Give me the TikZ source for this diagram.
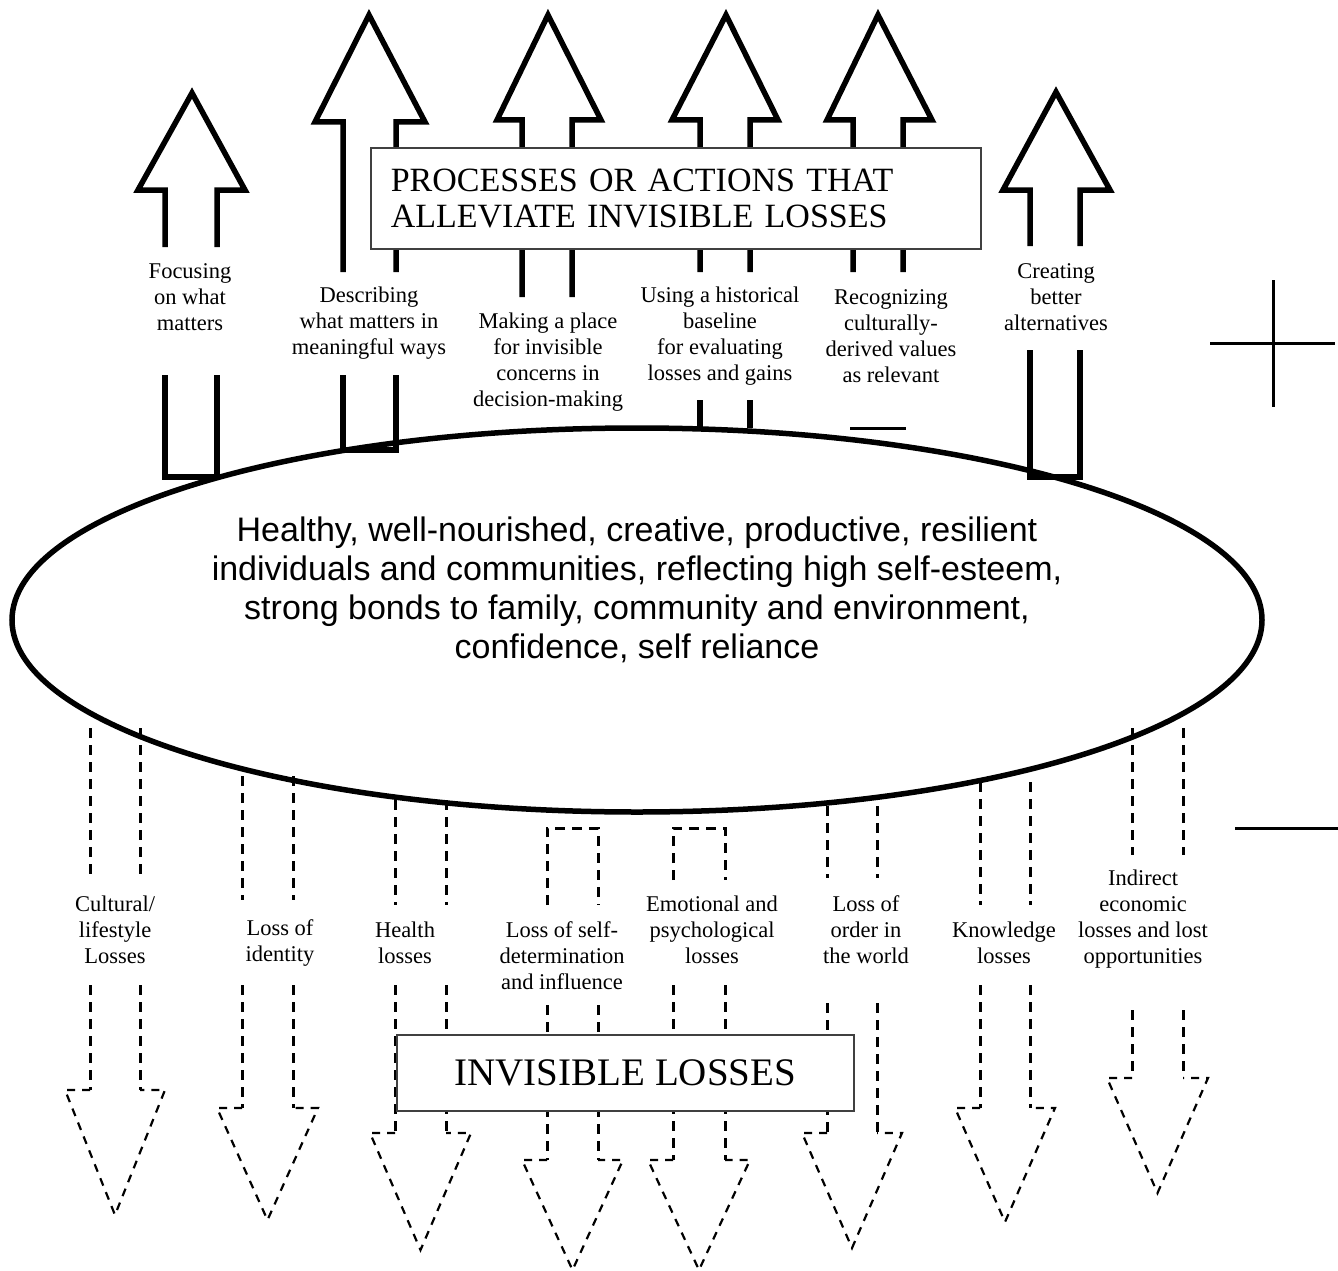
\documentclass[tikz,border=0pt]{standalone}
\usepackage{fontspec}
\setmainfont{Liberation Serif}
\newfontfamily\sansf{Liberation Sans}
\usetikzlibrary{shapes.geometric}
\begin{document}
\begin{tikzpicture}[x=1pt,y=-1pt,
  solidarrow/.style={line width=5.5pt, line join=miter},
  dshaft/.style={line width=3pt, dash pattern=on 10pt off 7pt},
  dhead/.style={line width=2.2pt, dash pattern=on 8pt off 7pt},
  lab/.style={align=center, font=\fontsize{22.5}{26}\selectfont, inner sep=0pt},
  boxstyle/.style={draw=black!75, line width=1.6pt, fill=white, inner sep=0pt}]
\useasboundingbox (0,0) rectangle (1338,1271);
\fill[white] (0,0) rectangle (1338,1271);

% central ellipse
\node[draw, ellipse, line width=5.5pt, minimum width=1250pt, minimum height=384pt,
      inner sep=0pt] (core) at (637,620) {};
\node[align=center, inner sep=0pt, font=\sansf\fontsize{34}{39}\selectfont] (coretext) at (637,590)
  {Healthy, well-nourished, creative, productive, resilient\\
   individuals and communities, reflecting high self-esteem,\\
   strong bonds to family, community and environment,\\
   confidence, self reliance};

% up arrows
\draw[solidarrow] (165,247) -- (165,190) -- (138,190) -- (192,93) -- (245,190) -- (217,190) -- (217,247);
\draw[solidarrow] (165,375) -- (165,477) -- (217,477) -- (217,375);
\draw[solidarrow] (343,272) -- (343,122) -- (315,122) -- (369,15) -- (425,122) -- (396,122) -- (396,272);
\draw[solidarrow] (343,375) -- (343,450) -- (396,450) -- (396,375);
\draw[solidarrow] (522,297) -- (522,120) -- (497,120) -- (548,15) -- (601,120) -- (572,120) -- (572,297);
\draw[solidarrow] (700,272) -- (700,120) -- (672,120) -- (726,15) -- (778,120) -- (750,120) -- (750,272);
\draw[solidarrow] (700,400) -- (700,428) (750,400) -- (750,428);
\draw[solidarrow] (853,272) -- (853,120) -- (827,120) -- (878,15) -- (932,120) -- (903,120) -- (903,272);
\draw[line width=3pt] (850,428) -- (906,428);
\draw[solidarrow] (1030,246) -- (1030,190) -- (1003,190) -- (1056,92) -- (1110,190) -- (1080,190) -- (1080,246);
\draw[solidarrow] (1030,350) -- (1030,477) -- (1080,477) -- (1080,350);

% up labels
\node[lab] (u1) at (190,297) {Focusing\\on what\\matters};
\node[lab] (u2) at (369,323) {Describing\\what matters in\\meaningful ways};
\node[lab] (u3) at (548,362) {Making a place\\for invisible\\concerns in\\decision-making};
\node[lab] (u4) at (720,336) {Using a historical\\baseline\\for evaluating\\losses and gains};
\node[lab] (u5) at (891,336) {Recognizing\\culturally-\\derived values\\as relevant};
\node[lab] (u6) at (1056,297) {Creating\\better\\alternatives};

% down arrows (dashed)
\foreach \L/\R/\T/\E/\S/\B/\tip in {90/140/728/875/985/1090/1215,
    242/293/776/900/985/1108/1220,
    395/446/800/905/985/1133/1250,
    980/1030/782/905/985/1108/1222,
    1132/1183/728/855/1010/1078/1193,
    827/877/806/878/1003/1133/1248}{
  \draw[dshaft] (\L,\T) -- (\L,\E) (\R,\T) -- (\R,\E) (\L,\S) -- (\L,\B) (\R,\S) -- (\R,\B);
  \draw[dhead] (\L,\B) -- ({\L-25},\B) -- ({(\L+\R)/2},\tip) -- ({\R+25},\B) -- (\R,\B);
}
\foreach \L/\R/\E/\S/\B/\tip in {547/598/905/1005/1160/1270, 673/725/880/985/1160/1270}{
  \draw[dshaft] (\L,\E) -- (\L,828) -- (\R,828) -- (\R,\E) (\L,\S) -- (\L,\B) (\R,\S) -- (\R,\B);
  \draw[dhead] (\L,\B) -- ({\L-25},\B) -- ({(\L+\R)/2},\tip) -- ({\R+25},\B) -- (\R,\B);
}

% down labels
\node[lab] (d1) at (115,930) {Cultural/\\lifestyle\\Losses};
\node[lab] (d2) at (280,943) {Loss of\\identity};
\node[lab] (d3) at (405,943) {Health\\losses};
\node[lab] (d4) at (562,956) {Loss of self-\\determination\\and influence};
\node[lab] (d5) at (712,930) {Emotional and\\psychological\\losses};
\node[lab] (d6) at (866,930) {Loss of\\order in\\the world};
\node[lab] (d7) at (1004,943) {Knowledge\\losses};
\node[lab] (d8) at (1143,919) {Indirect\\economic\\losses and lost\\opportunities};

% boxes
\node[boxstyle, anchor=north west, minimum width=610pt, minimum height=101pt,
      text width=570pt, inner xsep=20pt, align=left, font=\fontsize{34}{36}\selectfont]
  (procbox) at (370,147) {PROCESSES OR ACTIONS THAT\\ALLEVIATE INVISIBLE LOSSES};
\node[boxstyle, anchor=north west, minimum width=457pt, minimum height=76pt,
      font=\fontsize{39}{42}\selectfont] (lossbox) at (396,1034) {INVISIBLE LOSSES};

% plus and minus signs
\draw[line width=3pt] (1210,343) -- (1335,343) (1273,280) -- (1273,407);
\draw[line width=3pt] (1235,828) -- (1338,828);
\end{tikzpicture}
\end{document}
